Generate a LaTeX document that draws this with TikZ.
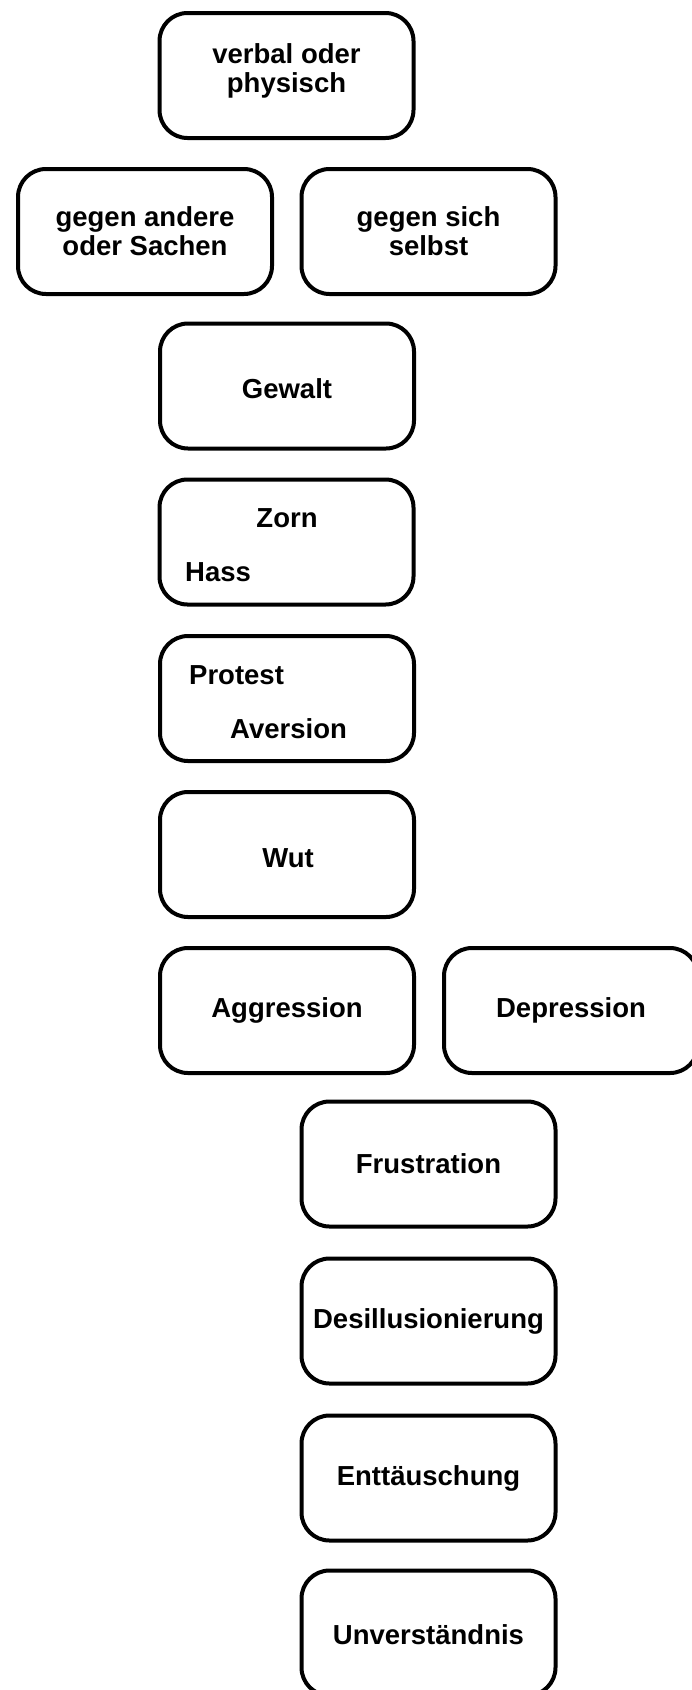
\documentclass[tikz,border=0pt]{standalone}
\usepackage{fontspec}
\setmainfont{Liberation Sans}
\usetikzlibrary{positioning}

\tikzset{
  feld/.style={draw, line width=4pt, rounded corners=28pt,
    minimum width=254pt, minimum height=125pt, inner sep=0pt,
    font=\bfseries\fontsize{27.5}{29}\selectfont, align=center},
  wort/.style={inner sep=0pt, font=\bfseries\fontsize{27.5}{29}\selectfont, align=center},
}

\begin{document}
\begin{tikzpicture}[x=1pt, y=-1pt]
    \useasboundingbox (0,0) rectangle (692,1690);
    \clip (0,0) rectangle (692,1690);

    % top row
    \node[feld] (verbal) at (286.5,75.5) {};
    \node[wort] (verbaltxt) at (286.5,70.5) {verbal oder\\physisch};
    \node[feld] (andere) at (145,231.5) {gegen andere\\oder Sachen};
    \node[feld] (selbst) at (428.5,231.5) {gegen sich\\selbst};

    % left column
    \node[feld] (gewalt) at (287,386) {};
    \node[wort] (gewalttxt) at (287,388.5) {Gewalt};
    \node[feld] (zorn) at (286.5,542) {};
    \node[wort] (zorntxt) at (287,518) {Zorn};
    \node[wort, anchor=west] (hass) at (185,572) {Hass};
    \node[feld] (protest) at (287,698.5) {};
    \node[wort, anchor=west] (protesttxt) at (189,675) {Protest};
    \node[wort, anchor=west] (aversion) at (230,729) {Aversion};
    \node[feld] (wut) at (287,854.5) {};
    \node[wort] (wuttxt) at (288,858.5) {Wut};
    \node[feld] (aggression) at (287,1010.5) {Aggression};
    \node[feld] (depression) at (571,1010.5) {Depression};

    % right column
    \node[feld] (frustration) at (428.5,1164) {Frustration};
    \node[feld] (desill) at (428.5,1321) {Desillusionierung};
    \node[feld] (enttaeusch) at (428.5,1478) {Enttäuschung};
    \node[feld] (unverst) at (428.5,1633) {};
    \node[wort] (unversttxt) at (428.5,1634.5) {Unverständnis};
\end{tikzpicture}
\end{document}
